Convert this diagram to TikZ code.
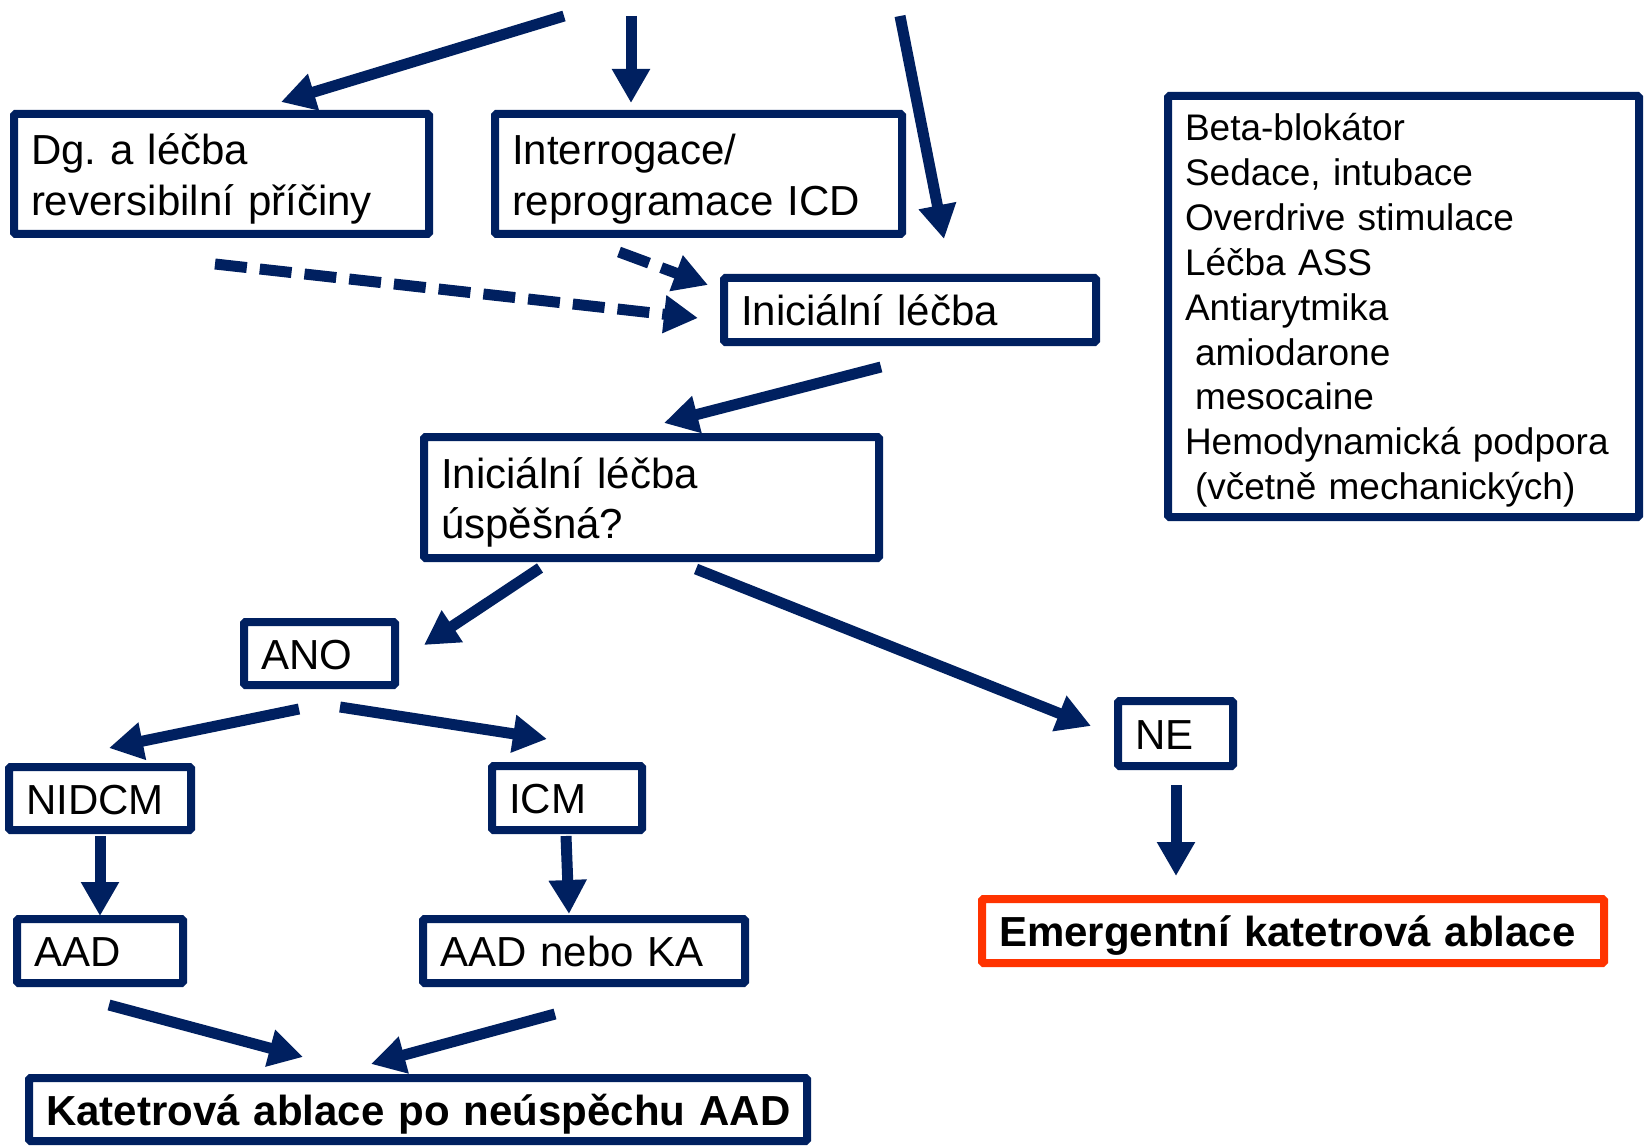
\documentclass[tikz,border=0pt]{standalone}
\usepackage{fontspec}
\setmainfont{Liberation Sans}
\usetikzlibrary{arrows.meta}
\definecolor{navy}{HTML}{002060}
\definecolor{alarm}{HTML}{FF3300}
\frenchspacing
\newcommand{\toppad}{\rule{0pt}{41pt}}
\newcommand{\cpad}{\rule[-15pt]{0pt}{61pt}}
\begin{document}
\begin{tikzpicture}[x=1pt,y=-1pt,
  box/.style={draw=navy, line width=8pt, inner xsep=17pt, inner ysep=0pt, align=left,
     font=\fontsize{42pt}{50.5pt}\selectfont\frenchspacing, rounded corners=1.5pt},
  boldbox/.style={box, font=\fontsize{42pt}{50pt}\selectfont\bfseries\frenchspacing},
  flow/.style={draw=navy, line width=11pt, -{Triangle[width=36pt,length=34pt]}},
  dflow/.style={flow, dash pattern=on 32pt off 13pt}]
\useasboundingbox[fill=white] (0,0) rectangle (1645,1147);

% boxes: text width = W - 34
\node[box, text width=381pt, minimum height=120pt] (dg) at (221.5,174) {\toppad Dg. a léčba\\reversibilní příčiny};
\node[box, text width=373pt, minimum height=120pt] (intr) at (698.5,174) {\toppad Interrogace/\\reprogramace ICD};
\node[box, text width=338pt, minimum height=64pt] (ini) at (910,310) {\cpad Iniciální léčba};
\node[box, text width=421pt, minimum height=121pt] (succ) at (651.5,497.5) {\toppad Iniciální léčba\\úspěšná?};
\node[box, text width=117pt, minimum height=63pt] (ano) at (319.5,653.5) {\cpad ANO};
\node[box, text width=81pt, minimum height=65pt] (ne) at (1175.5,733.5) {\cpad NE};
\node[box, text width=148pt, minimum height=63pt] (nidcm) at (100,798.5) {\cpad NIDCM};
\node[box, text width=116pt, minimum height=64pt] (icm) at (567,798) {\cpad ICM};
\node[box, text width=132pt, minimum height=64pt] (aad) at (100,951) {\cpad AAD};
\node[box, text width=288pt, minimum height=64pt] (aadka) at (584,951) {\cpad AAD nebo KA};
\node[boldbox, draw=alarm, text width=588pt, minimum height=64pt] (emerg) at (1293,931) {\cpad Emergentní katetrová ablace};
\node[boldbox, text width=744pt, minimum height=63pt] (kat) at (418,1109.5) {\cpad\mbox{Katetrová ablace po neúspěchu AAD}};
\node[box, text width=437pt, minimum height=421pt, font=\fontsize{37pt}{44.9pt}\selectfont] (meds) at (1403.5,306.5)
  {\rule{0pt}{35pt}Beta-blokátor\\Sedace, intubace\\Overdrive stimulace\\Léčba ASS\\Antiarytmika\\\hspace*{0.27em}amiodarone\\\hspace*{0.27em}mesocaine\\Hemodynamická podpora\\\hspace*{0.27em}(včetně mechanických)};

% arrow end points
\coordinate (a1s) at (564,16);  \coordinate (a1e) at (281,102);
\coordinate (a2s) at (631,16);  \coordinate (a2e) at (631,103);
\coordinate (a3s) at (900,16);  \coordinate (a3e) at (944,239);
\coordinate (a4s) at (619,252); \coordinate (a4e) at (708,285);
\coordinate (a5s) at (215,264); \coordinate (a5e) at (698,318);
\coordinate (a6s) at (881,367); \coordinate (a6e) at (664,423);
\coordinate (a7s) at (540,568); \coordinate (a7e) at (424,645);
\coordinate (a8s) at (696,569); \coordinate (a8e) at (1091,726);
\coordinate (a9s) at (299,709); \coordinate (a9e) at (109,748);
\coordinate (a10s) at (340,707); \coordinate (a10e) at (547,739);
\coordinate (a11s) at (100,836); \coordinate (a11e) at (100,916);
\coordinate (a12s) at (566,836); \coordinate (a12e) at (569,914);
\coordinate (a13s) at (1176,785); \coordinate (a13e) at (1176,876);
\coordinate (a14s) at (109,1005); \coordinate (a14e) at (303,1057);
\coordinate (a15s) at (555,1014); \coordinate (a15e) at (371,1064);

\draw[flow] (a1s) -- (a1e);
\draw[flow] (a2s) -- (a2e);
\draw[flow] (a3s) -- (a3e);
\draw[dflow] (a4s) -- (a4e);
\draw[dflow] (a5s) -- (a5e);
\draw[flow] (a6s) -- (a6e);
\draw[flow] (a7s) -- (a7e);
\draw[flow] (a8s) -- (a8e);
\draw[flow] (a9s) -- (a9e);
\draw[flow] (a10s) -- (a10e);
\draw[flow] (a11s) -- (a11e);
\draw[flow] (a12s) -- (a12e);
\draw[flow] (a13s) -- (a13e);
\draw[flow] (a14s) -- (a14e);
\draw[flow] (a15s) -- (a15e);
\end{tikzpicture}
\end{document}
